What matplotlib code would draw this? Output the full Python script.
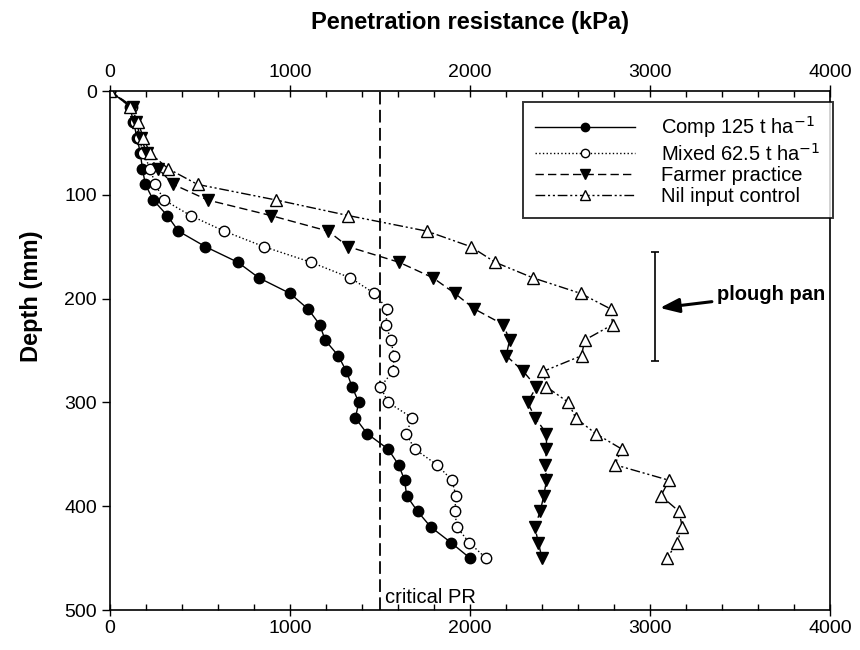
import matplotlib.pyplot as plt
from matplotlib.ticker import MultipleLocator

plt.rcParams['font.family'] = ['Liberation Sans', 'DejaVu Sans']

# depth (mm), one reading every 15 mm
depth = list(range(0, 451, 15))

# penetration resistance (kPa)
comp = [0, 110, 130, 150, 168, 180, 196, 240, 318, 380, 530, 710, 827, 1000, 1100,
        1165, 1195, 1268, 1313, 1345, 1382, 1363, 1428, 1545, 1603, 1637, 1648,
        1709, 1782, 1894, 2000]
mixed = [0, 120, 140, 160, 185, 223, 251, 300, 447, 634, 855, 1117, 1335, 1469, 1540,
         1533, 1560, 1578, 1572, 1502, 1545, 1680, 1645, 1693, 1816, 1900, 1922,
         1916, 1927, 1995, 2089]
farmer = [0, 125, 145, 170, 205, 268, 352, 542, 894, 1212, 1324, 1606, 1795, 1916, 2025,
          2185, 2220, 2201, 2296, 2369, 2320, 2363, 2425, 2425, 2419, 2425, 2410,
          2390, 2360, 2380, 2400]
nil = [0, 112, 156, 184, 223, 324, 486, 922, 1324, 1760, 2005, 2140, 2350, 2615, 2782,
       2793, 2637, 2620, 2408, 2425, 2547, 2587, 2698, 2844, 2804, 3106, 3061,
       3162, 3179, 3151, 3095]

labels = ['Comp 125 t ha$^{-1}$', 'Mixed 62.5 t ha$^{-1}$',
          'Farmer practice', 'Nil input control']

critical_pr = 1500
pan_x = 3030
pan_top, pan_bottom = 155, 260

fig = plt.figure(figsize=(8.6, 6.5), dpi=100)
ax = fig.add_axes([0.128, 0.0615, 0.837, 0.7985])

ax.plot(comp, depth, color='black', lw=1, ls='-', marker='o', ms=7.5,
        mfc='black', mec='black', label=labels[0])
ax.plot(mixed, depth, color='black', lw=1, ls=':', marker='o', ms=7.5,
        mfc='white', mec='black', label=labels[1])
ax.plot(farmer, depth, color='black', lw=1, ls=(0, (6, 3)), marker='v', ms=8.5,
        mfc='black', mec='black', label=labels[2])
ax.plot(nil, depth, color='black', lw=1, ls=(0, (7, 2, 1.5, 2, 1.5, 2)), marker='^',
        ms=8.5, mfc='white', mec='black', label=labels[3])

# critical penetration resistance
ax.axvline(critical_pr, color='black', lw=1.3, ls=(0, (7, 3)), zorder=1)
ax.text(critical_pr + 30, 488, 'critical PR', fontsize=14.5, va='center', ha='left')

# plough pan bar and arrow
ax.errorbar([pan_x], [(pan_top + pan_bottom) / 2], yerr=[(pan_bottom - pan_top) / 2],
            color='black', lw=1.2, capsize=3, capthick=1.2)
ax.annotate('plough pan', xy=(pan_x + 25, 209), xytext=(3375, 196),
            fontsize=14.5, fontweight='bold', va='center', ha='left',
            arrowprops=dict(arrowstyle='-|>,head_length=0.8,head_width=0.3',
                            color='black', lw=2.2, shrinkA=2, shrinkB=0))

ax.set_xlim(0, 4000)
ax.set_ylim(500, 0)
ax.xaxis.set_major_locator(MultipleLocator(1000))
ax.xaxis.set_minor_locator(MultipleLocator(200))
ax.yaxis.set_major_locator(MultipleLocator(100))
ax.tick_params(axis='x', which='both', top=True, labeltop=True, labelsize=14)
ax.tick_params(axis='x', which='major', direction='inout', length=8, width=1)
ax.tick_params(axis='x', which='minor', direction='in', length=4, width=1)
ax.tick_params(axis='y', which='major', direction='out', length=6, width=1, labelsize=14)
for s in ax.spines.values():
    s.set_linewidth(1.2)

ax.set_ylabel('Depth (mm)', fontsize=17, fontweight='bold')
ax.yaxis.set_label_coords(-0.093, 0.605)
fig.text(0.546, 0.966, 'Penetration resistance (kPa)', fontsize=17,
         fontweight='bold', ha='center', va='center')

leg = ax.legend(loc='upper right', bbox_to_anchor=(1.004, 0.978), fontsize=14.5,
                handlelength=5.0, markerscale=0.8, frameon=True, fancybox=False,
                edgecolor='black', borderpad=0.6, labelspacing=0.1,
                handletextpad=1.3, borderaxespad=0)
leg.get_frame().set_linewidth(1.4)

fig.savefig('out.png', dpi=100)
